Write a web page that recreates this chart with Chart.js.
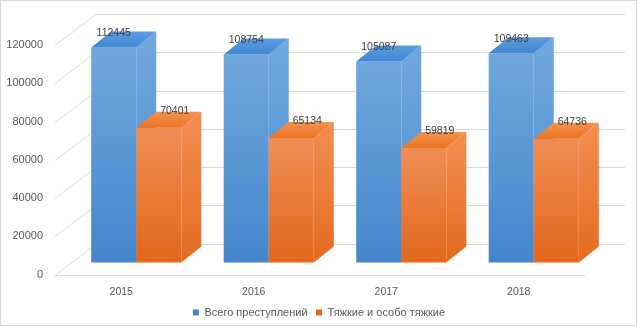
<!DOCTYPE html>
<html>
<head>
<meta charset="utf-8">
<script src="https://cdn.jsdelivr.net/npm/chart.js@4.4.1/dist/chart.umd.min.js"></script>
<style>
  html, body { margin: 0; padding: 0; background: #fff; }
</style>
</head>
<body>
<canvas id="crimeChart" width="638" height="327"></canvas>
<script>
const years = ["2015", "2016", "2017", "2018"];
const allCrimes = [112445, 108754, 105087, 109463];
const graveCrimes = [70401, 65134, 59819, 64736];
const yTicks = [0, 20000, 40000, 60000, 80000, 100000, 120000];

const FONT = "'Liberation Sans', Arial, sans-serif";
const TEXT = "#595959";
const GRID = "#d9d9d9";

// fake 3d: bars stand half-way back on the floor, wall is further back
const SHIFT = { x: 15, y: -12 };
const DEPTH = { x: 20, y: -16 };
const WALL = { x: 41, y: -31 };

const look = [
    { front: ["#70a7dd", "#4586cb"], side: ["#6ea6de", "#4a8bd0"], top: ["#5c9de0", "#3f86d2"] },
    { front: ["#f08d55", "#e2681b"], side: ["#f28b4d", "#e36b1e"], top: ["#f3924f", "#ec7320"] }
];

function frontFill(colors, flat) {
    return ctx => {
        if (ctx.type !== "data") return flat;
        const y = ctx.chart.scales.y;
        if (!y) return flat;
        const t = y.getPixelForValue(ctx.raw), b = y.getPixelForValue(0);
        if (!isFinite(t) || !isFinite(b) || t === b) return flat;
        const g = ctx.chart.ctx.createLinearGradient(0, t, 0, b);
        g.addColorStop(0, colors[0]);
        g.addColorStop(1, colors[1]);
        return g;
    };
}

function poly(ctx, pts, fill) {
    ctx.beginPath();
    ctx.moveTo(pts[0][0], pts[0][1]);
    for (let i = 1; i < pts.length; i++) ctx.lineTo(pts[i][0], pts[i][1]);
    ctx.closePath();
    ctx.fillStyle = fill;
    ctx.fill();
}

const box3d = {
    id: "box3d",
    beforeDraw(chart) {
        const ctx = chart.ctx;
        const { left, right } = chart.chartArea;
        const y = chart.scales.y;
        ctx.save();
        ctx.strokeStyle = GRID;
        ctx.lineWidth = 1;
        ctx.strokeRect(0.5, 0.5, 636, 325);
        yTicks.forEach(v => {
            const py = Math.round(y.getPixelForValue(v)) + 0.5;
            ctx.beginPath();
            ctx.moveTo(left, py);
            ctx.lineTo(left + WALL.x, py + WALL.y);
            ctx.lineTo(right + WALL.x - 1, py + WALL.y);
            ctx.stroke();
        });
        const p0 = Math.round(y.getPixelForValue(0)) + 0.5;
        ctx.beginPath();
        ctx.moveTo(left, p0);
        ctx.lineTo(right, p0);
        ctx.stroke();
        ctx.restore();
    },
    // draw the bars ourselves, series by series, so that every bar's side
    // and top sit under the next bar's front face; front faces are the
    // library's own bar elements
    beforeDatasetsDraw(chart) {
        const ctx = chart.ctx;
        ctx.save();
        ctx.translate(SHIFT.x, SHIFT.y);
        chart.data.datasets.forEach((ds, i) => {
            const st = look[i];
            chart.getDatasetMeta(i).data.forEach(bar => {
                bar.draw(ctx);
                const l = bar.x - bar.width / 2, r = bar.x + bar.width / 2;
                const t = bar.y, b = bar.base;
                let g = ctx.createLinearGradient(0, t, 0, b);
                g.addColorStop(0, st.side[0]);
                g.addColorStop(1, st.side[1]);
                poly(ctx, [[r, t], [r + DEPTH.x, t + DEPTH.y], [r + DEPTH.x, b + DEPTH.y], [r, b]], g);
                g = ctx.createLinearGradient(0, t + DEPTH.y, 0, t);
                g.addColorStop(0, st.top[0]);
                g.addColorStop(1, st.top[1]);
                poly(ctx, [[l, t], [r, t], [r + DEPTH.x, t + DEPTH.y], [l + DEPTH.x, t + DEPTH.y]], g);
            });
        });
        ctx.font = "10.5px " + FONT;
        ctx.fillStyle = "#404040";
        ctx.textAlign = "center";
        ctx.textBaseline = "middle";
        chart.data.datasets.forEach((ds, i) => {
            chart.getDatasetMeta(i).data.forEach((bar, j) => {
                const dx = i === 0 ? 0 : 16;
                const dy = i === 0 ? -14 : -17;
                ctx.fillText(String(ds.data[j]), bar.x + dx, bar.y + dy);
            });
        });
        ctx.restore();
        return false;
    }
};

new Chart(document.getElementById("crimeChart"), {
    type: "bar",
    data: {
        labels: years,
        datasets: [
            {
                label: "Всего преступлений",
                data: allCrimes,
                backgroundColor: frontFill(look[0].front, "#5b9bd5"),
                borderWidth: 0
            },
            {
                label: "Тяжкие и особо тяжкие",
                data: graveCrimes,
                backgroundColor: frontFill(look[1].front, "#ed7d31"),
                borderWidth: 0
            }
        ]
    },
    options: {
        responsive: false,
        animation: false,
        events: [],
        barPercentage: 1,
        categoryPercentage: 0.68,
        layout: { padding: { top: 45, right: 0, bottom: -1, left: 0 } },
        plugins: {
            legend: {
                position: "bottom",
                labels: {
                    color: TEXT,
                    font: { family: FONT, size: 11 },
                    boxWidth: 6,
                    boxHeight: 6,
                    padding: 8.5
                }
            },
            tooltip: { enabled: false }
        },
        scales: {
            x: {
                grid: { display: false, drawTicks: false },
                border: { display: false },
                ticks: { color: TEXT, font: { family: FONT, size: 10.5 }, padding: 11 },
                afterFit: s => { s.height = 24; }
            },
            y: {
                min: 0,
                max: 120000,
                grid: { display: false, drawTicks: false },
                border: { display: false },
                ticks: { color: TEXT, font: { family: FONT, size: 11 }, padding: 12, callback: v => String(v) },
                afterBuildTicks: s => { s.ticks = yTicks.map(v => ({ value: v })); },
                afterFit: s => { s.width = 55; }
            },
            // empty axis on the right only to keep room for the back wall
            yRight: {
                type: "linear",
                position: "right",
                grid: { display: false, drawTicks: false },
                border: { display: false },
                ticks: { display: false },
                afterFit: s => { s.width = 53; }
            }
        }
    },
    plugins: [box3d]
});
</script>
</body>
</html>
